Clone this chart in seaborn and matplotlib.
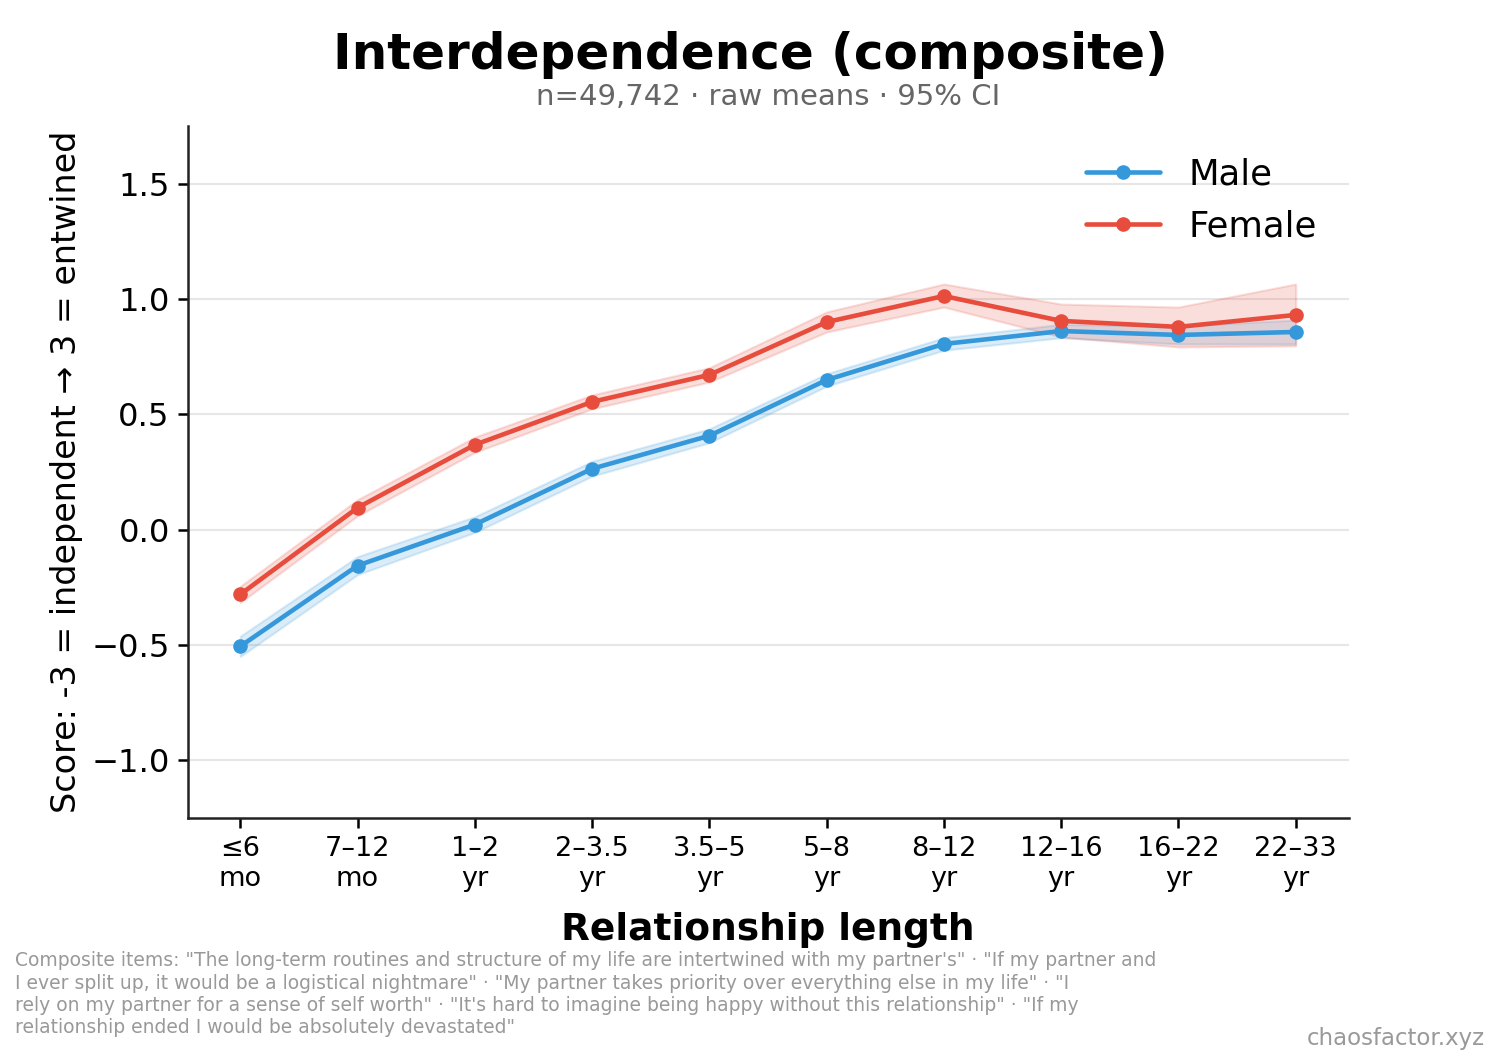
import matplotlib
matplotlib.use("Agg")
import matplotlib.pyplot as plt
import seaborn as sns
import pandas as pd
import numpy as np

categories = ["≤6\nmo", "7–12\nmo", "1–2\nyr", "2–3.5\nyr", "3.5–5\nyr",
              "5–8\nyr", "8–12\nyr", "12–16\nyr", "16–22\nyr", "22–33\nyr"]
male_mean = [-0.506, -0.156, 0.022, 0.264, 0.407, 0.649, 0.805, 0.861, 0.844, 0.857]
male_lo = [-0.550, -0.195, -0.012, 0.232, 0.377, 0.622, 0.778, 0.832, 0.805, 0.805]
male_hi = [-0.462, -0.117, 0.056, 0.296, 0.437, 0.676, 0.832, 0.890, 0.883, 0.909]
female_mean = [-0.281, 0.095, 0.368, 0.554, 0.671, 0.900, 1.013, 0.905, 0.879, 0.931]
female_lo = [-0.316, 0.060, 0.335, 0.524, 0.640, 0.857, 0.965, 0.835, 0.792, 0.797]
female_hi = [-0.246, 0.130, 0.401, 0.584, 0.702, 0.944, 1.065, 0.978, 0.965, 1.065]

colors = {"Male": "#3498db", "Female": "#e74c3c"}

sns.set_theme(style="white")
plt.rcParams["font.family"] = ["DejaVu Sans"]
plt.rcParams["text.color"] = "black"
plt.rcParams["axes.labelcolor"] = "black"
plt.rcParams["xtick.color"] = "black"
plt.rcParams["ytick.color"] = "black"

x = np.arange(len(categories))
df = pd.DataFrame({
    "x": np.concatenate([x, x]),
    "score": male_mean + female_mean,
    "Gender": ["Male"] * len(x) + ["Female"] * len(x),
})

fig = plt.figure(figsize=(10, 7), dpi=150)
ax = fig.add_axes([0.125, 0.221, 0.774, 0.659])

ax.fill_between(x, male_lo, male_hi, color=colors["Male"], alpha=0.18, linewidth=1)
ax.fill_between(x, female_lo, female_hi, color=colors["Female"], alpha=0.18, linewidth=1)
sns.lineplot(data=df, x="x", y="score", hue="Gender", palette=colors,
             marker="o", markersize=7, markeredgewidth=0, linewidth=2.2,
             ax=ax, errorbar=None)

ax.set_ylim(-1.25, 1.75)
ax.set_xlim(-0.45, 9.45)
ax.set_yticks([-1.0, -0.5, 0.0, 0.5, 1.0, 1.5])
ax.set_xticks(x)
ax.set_xticklabels(categories, fontsize=13)
ax.tick_params(axis="y", labelsize=15.5, length=5, width=1.2, direction="out", left=True)
ax.tick_params(axis="x", length=5, width=1.2, direction="out", bottom=True)
ax.grid(axis="y", color="#e6e6e6", linewidth=1)
ax.set_axisbelow(True)
for s in ["top", "right"]:
    ax.spines[s].set_visible(False)
for s in ["left", "bottom"]:
    ax.spines[s].set_color("#222222")
    ax.spines[s].set_linewidth(1.2)

ax.set_xlabel("Relationship length", fontsize=18, fontweight="bold", labelpad=10)
ax.set_ylabel("Score: -3 = independent → 3 = entwined", fontsize=16)

leg = ax.legend(frameon=False, fontsize=17, loc="upper right", handlelength=2.1)

fig.text(0.5, 0.948, "Interdependence (composite)", ha="center", va="center",
         fontsize=24, fontweight="bold")
ax.text(0.5, 1.0 + (0.908 - 0.88) / 0.659, "n=49,742 · raw means · 95% CI",
        transform=ax.transAxes, ha="center", va="center",
        fontsize=14, color="#666666")

foot = ("Composite items: \"The long-term routines and structure of my life are intertwined with my partner's\" · \"If my partner and\n"
        "I ever split up, it would be a logistical nightmare\" · \"My partner takes priority over everything else in my life\" · \"I\n"
        "rely on my partner for a sense of self worth\" · \"It's hard to imagine being happy without this relationship\" · \"If my\n"
        "relationship ended I would be absolutely devastated\"")
fig.text(0.01, 0.094, foot, ha="left", va="top", fontsize=9, color="#999999",
         linespacing=1.22)
fig.text(0.99, 0.0, "chaosfactor.xyz", ha="right", va="bottom", fontsize=11,
         color="#999999")

fig.savefig("out.png", dpi=150)
